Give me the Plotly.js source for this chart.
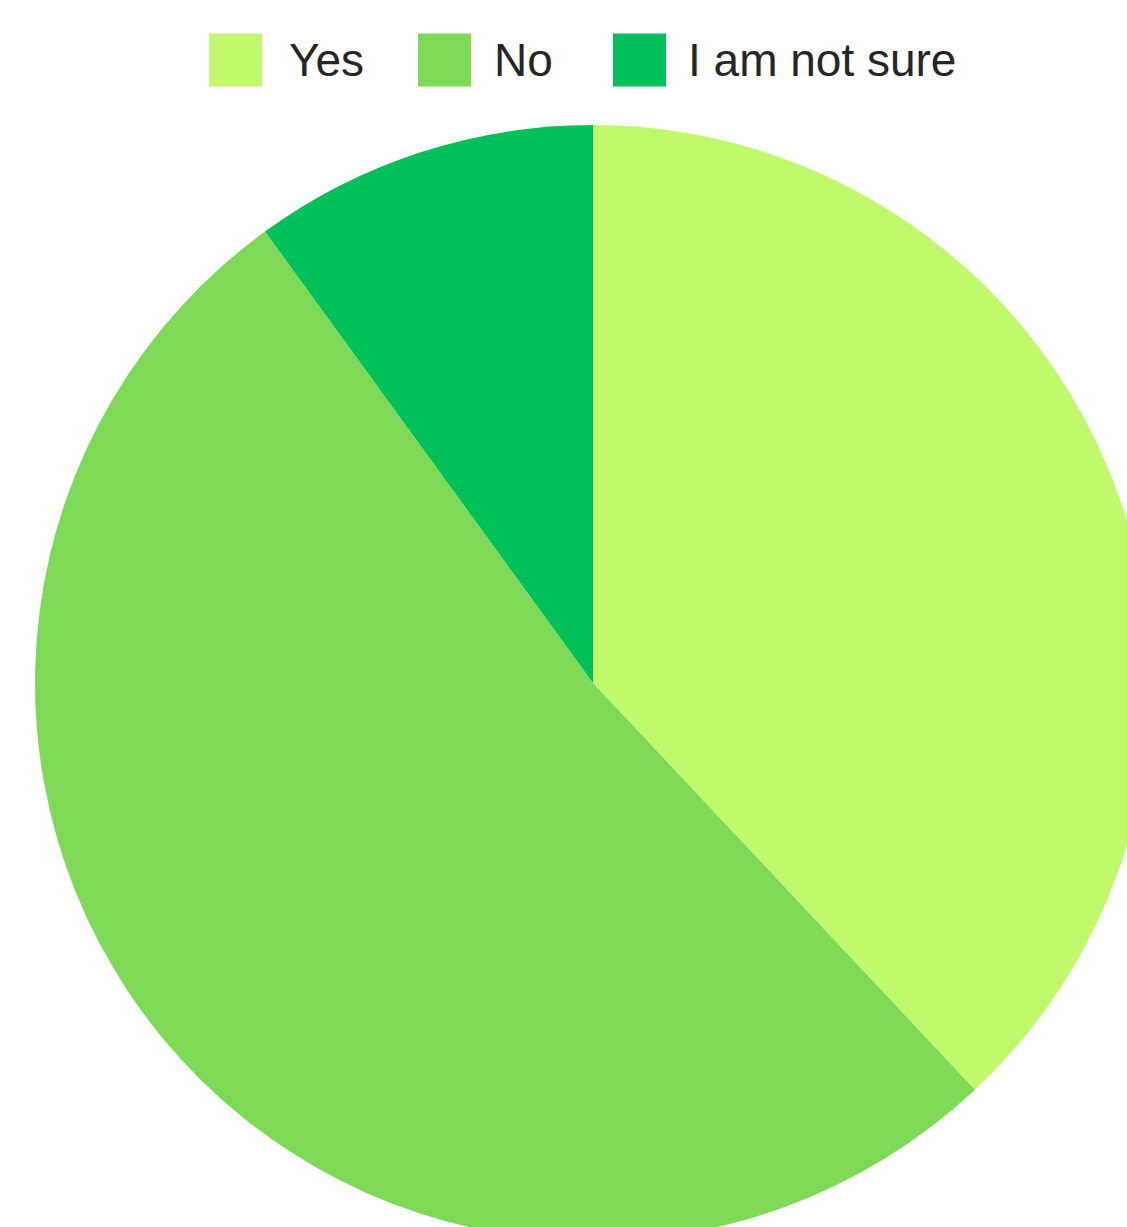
<!DOCTYPE html>
<html>
<head>
<meta charset="utf-8">
<script src="https://cdn.plot.ly/plotly-3.0.1.min.js"></script>
<style>
html, body { margin:0; padding:0; overflow:hidden; background:#fff; }
#chart { width:1160px; height:1250px; }
</style>
</head>
<body>
<div id="chart"></div>
<script>
// Data
var labels = ["Yes", "No", "I am not sure"];
var values = [38, 52, 10];
var colors = ["#c1f96c", "#7ed957", "#00c05a"];

// Figure geometry (pixels)
var W = 1160, H = 1250;
var cx = 593, cy = 683, r = 558;

// Custom legend layout (pixel positions of squares and text)
var legendSquareX = [209, 418, 613];
var legendTextX = [287, 492, 686];
var legendY = 60, sq = 53;

var shapes = [], annotations = [];
for (var i = 0; i < labels.length; i++) {
  shapes.push({
    type: "rect", xref: "paper", yref: "paper",
    x0: legendSquareX[i] / W, x1: (legendSquareX[i] + sq) / W,
    y0: 1 - (legendY + sq / 2) / H, y1: 1 - (legendY - sq / 2) / H,
    fillcolor: colors[i], line: { width: 0 }
  });
  annotations.push({
    xref: "paper", yref: "paper",
    x: legendTextX[i] / W, y: 1 - legendY / H,
    xanchor: "left", yanchor: "middle",
    text: labels[i], showarrow: false,
    font: { family: "Liberation Sans, Arial, sans-serif", size: 46, color: "#262626" }
  });
}

var trace = {
  type: "pie",
  labels: labels,
  values: values,
  sort: false,
  direction: "clockwise",
  rotation: 0,
  textinfo: "none",
  hoverinfo: "label+percent",
  marker: { colors: colors, line: { width: 0 } },
  domain: {
    x: [(cx - r) / W, (cx + r) / W],
    y: [(H - (cy + r)) / H, (H - (cy - r)) / H]
  },
  showlegend: false
};

var layout = {
  width: W, height: H,
  margin: { l: 0, r: 0, t: 0, b: 0 },
  paper_bgcolor: "#ffffff",
  showlegend: false,
  shapes: shapes,
  annotations: annotations
};

Plotly.newPlot("chart", [trace], layout, { displayModeBar: false, staticPlot: true });
</script>
</body>
</html>
